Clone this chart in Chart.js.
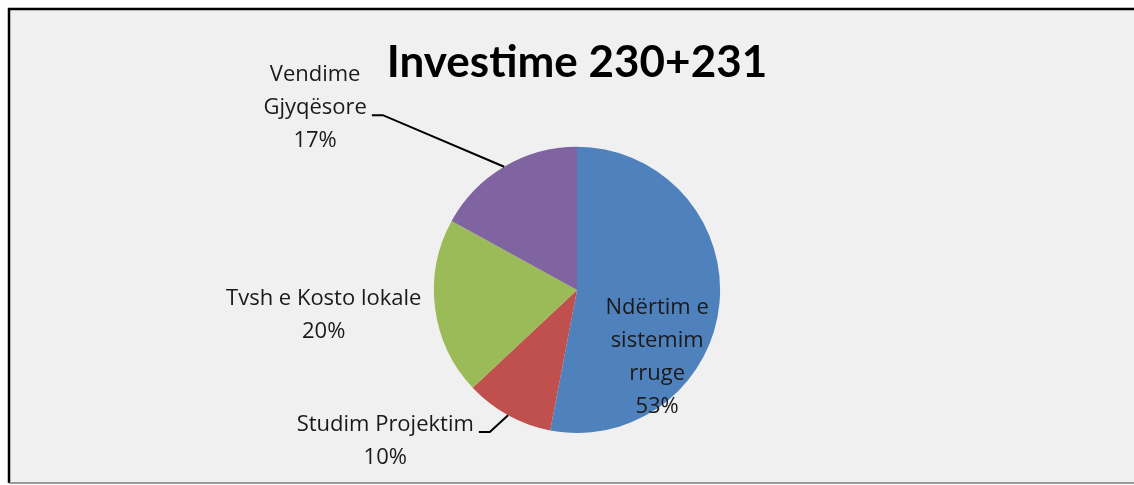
<!DOCTYPE html>
<html>
<head>
<meta charset="utf-8">
<script src="https://cdn.jsdelivr.net/npm/chart.js@4"></script>
<style>
  html, body { margin: 0; padding: 0; background: #ffffff; }
  #wrap { width: 1134px; height: 485px; }
</style>
</head>
<body>
<div id="wrap"><canvas id="pie"></canvas></div>
<script>
// chart data
const categories = [
  ['Ndërtim e', 'sistemim', 'rruge'],
  ['Studim Projektim'],
  ['Tvsh e Kosto lokale'],
  ['Vendime', 'Gjyqësore']
];
const shares = [53, 10, 20, 17];
const sliceColors = ['#4F81BD', '#C0504D', '#9BBB59', '#8064A2'];
const chartTitle = 'Investime 230+231';

// where each data label sits, in units of the pie radius from its centre
const labelPlacement = [
  { x: 0.56, y: 0.47, leader: false },
  { x: -1.34, y: 1.06, leader: true },
  { x: -1.77, y: 0.175, leader: false },
  { x: -1.83, y: -1.27, leader: true }
];

const labelFont = '22px "Open Sans"';
const lineHeight = 33;

// grey plot frame behind everything
const framePlugin = {
  id: 'frame',
  beforeDraw(chart) {
    const ctx = chart.ctx;
    ctx.save();
    ctx.fillStyle = '#ffffff';
    ctx.fillRect(0, 0, chart.width, chart.height);
    ctx.fillStyle = '#f0f0f0';
    ctx.fillRect(9, 9, chart.width, chart.height - 11);
    ctx.strokeStyle = '#000000';
    ctx.lineWidth = 2.5;
    ctx.beginPath();
    ctx.moveTo(chart.width + 2, 9);
    ctx.lineTo(9, 9);
    ctx.lineTo(9, chart.height - 2);
    ctx.stroke();
    ctx.strokeStyle = '#7a7a7a';
    ctx.lineWidth = 1.5;
    ctx.beginPath();
    ctx.moveTo(9, chart.height - 2);
    ctx.lineTo(chart.width, chart.height - 2);
    ctx.stroke();
    ctx.restore();
  }
};

// data labels with leader lines, like the spreadsheet version
const pieLabels = {
  id: 'pieLabels',
  afterDatasetsDraw(chart) {
    const ctx = chart.ctx;
    const arcs = chart.getDatasetMeta(0).data;
    ctx.save();
    ctx.font = labelFont;
    ctx.fillStyle = '#1a1a1a';
    ctx.textAlign = 'center';
    ctx.textBaseline = 'middle';
    arcs.forEach((arc, i) => {
      const { x, y, outerRadius, startAngle, endAngle } = arc.getProps(['x', 'y', 'outerRadius', 'startAngle', 'endAngle'], true);
      const place = labelPlacement[i];
      const lines = categories[i].concat([shares[i] + '%']);
      const cx = x + place.x * outerRadius;
      const cy = y + place.y * outerRadius;
      const top = cy - (lines.length - 1) * lineHeight / 2;
      lines.forEach((txt, k) => ctx.fillText(txt, cx, top + k * lineHeight));

      if (place.leader) {
        // the line starts beside the last name line and ends on the slice edge
        const row = lines.length - 2;
        const w = ctx.measureText(lines[row]).width;
        const sx = cx + w / 2 + 5;
        const sy = top + row * lineHeight + 7;
        const mid = (startAngle + endAngle) / 2;
        ctx.strokeStyle = '#000000';
        ctx.lineWidth = 2;
        ctx.beginPath();
        ctx.moveTo(sx, sy);
        ctx.lineTo(sx + 11, sy);
        ctx.lineTo(x + Math.cos(mid) * outerRadius, y + Math.sin(mid) * outerRadius);
        ctx.stroke();
      }
    });
    ctx.restore();
  }
};

new Chart(document.getElementById('pie'), {
  type: 'pie',
  data: {
    labels: categories.map(c => c.join(' ')),
    datasets: [{
      data: shares,
      backgroundColor: sliceColors,
      borderWidth: 0
    }]
  },
  options: {
    responsive: true,
    maintainAspectRatio: false,
    animation: false,
    layout: { padding: { left: 20, right: 0, top: 0, bottom: 52 } },
    plugins: {
      legend: { display: false },
      tooltip: { enabled: false },
      title: {
        display: true,
        text: chartTitle,
        color: '#000000',
        font: { family: 'Lato', size: 44, weight: 'bold', lineHeight: 1.2 },
        padding: { top: 36, bottom: 58 }
      }
    }
  },
  plugins: [framePlugin, pieLabels]
});
</script>
</body>
</html>
